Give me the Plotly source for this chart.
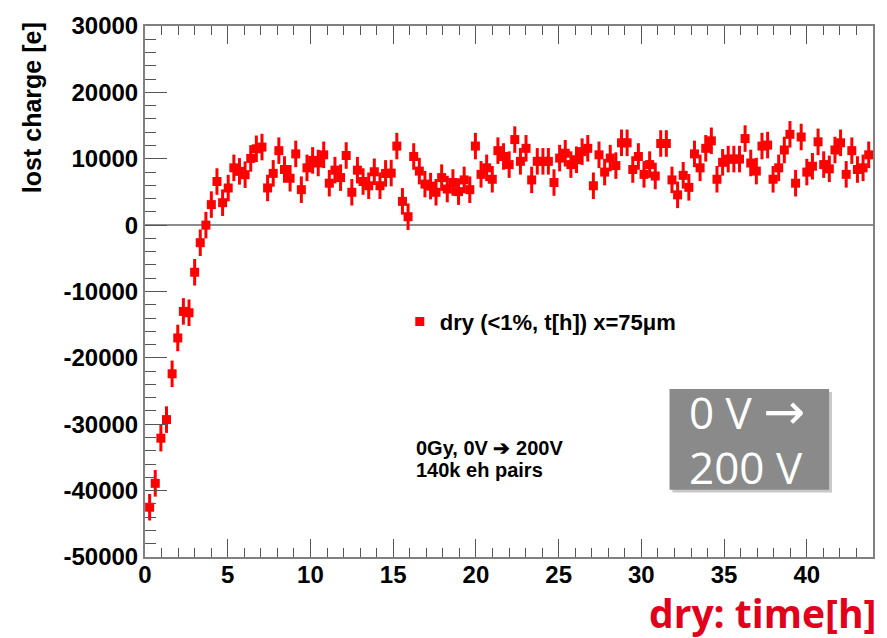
import plotly.graph_objects as go

# time [h]
time_h = [0.28, 0.62, 0.96, 1.30, 1.64, 1.98, 2.32, 2.66, 3.00, 3.34,
          3.68, 4.01, 4.35, 4.69, 5.03, 5.37, 5.71, 6.05, 6.39, 6.73,
          7.07, 7.41, 7.75, 8.09, 8.43, 8.77, 9.11, 9.45, 9.79, 10.13,
          10.47, 10.80, 11.14, 11.48, 11.82, 12.16, 12.50, 12.84, 13.18, 13.52,
          13.86, 14.20, 14.54, 14.88, 15.22, 15.56, 15.90, 16.24, 16.58, 16.92,
          17.26, 17.59, 17.93, 18.27, 18.61, 18.95, 19.29, 19.63, 19.97, 20.31,
          20.65, 20.99, 21.33, 21.67, 22.01, 22.35, 22.69, 23.03, 23.37, 23.71,
          24.05, 24.38, 24.72, 25.06, 25.40, 25.74, 26.08, 26.42, 26.76, 27.10,
          27.44, 27.78, 28.12, 28.46, 28.80, 29.14, 29.48, 29.82, 30.16, 30.50,
          30.84, 31.17, 31.51, 31.85, 32.19, 32.53, 32.87, 33.21, 33.55, 33.89,
          34.23, 34.57, 34.91, 35.25, 35.59, 35.93, 36.27, 36.61, 36.95, 37.29,
          37.63, 37.96, 38.30, 38.64, 38.98, 39.32, 39.66, 40.00, 40.34, 40.68,
          41.02, 41.36, 41.70, 42.04, 42.38, 42.72, 43.06, 43.40, 43.74]

# lost charge [e]
lost_charge = [-42500, -38900, -32100, -29300, -22400, -17000, -13000, -13200, -7100, -2650,
               0, 3090, 6570, 3380, 5590, 8630, 8100, 7600, 10050, 11500,
               11760, 5600, 7800, 11220, 8380, 7060, 10730, 5340, 8630, 9750,
               9360, 10590, 6320, 8280, 7160, 10490, 4950, 8280, 6570, 5930,
               8040, 5930, 7790, 7840, 11910, 3580, 1270, 10340, 8140, 6180,
               5880, 4950, 7160, 5440, 6420, 5050, 6810, 5340, 11910, 7650,
               8630, 6910, 11220, 10340, 9120, 12890, 9610, 11570, 6810, 9610,
               9610, 9610, 6420, 10100, 10830, 9120, 9850, 11070, 11570, 5930,
               10590, 7990, 10100, 8970, 12400, 12400, 8380, 10340, 7650, 9120,
               7400, 12300, 12300, 6810, 4560, 7500, 5690, 10730, 8630, 11570,
               12700, 6910, 9460, 9950, 9950, 9950, 13040, 9360, 8140, 11910,
               12060, 6910, 8630, 11320, 13680, 6320, 13280, 7990, 8870, 12550,
               9120, 8480, 11320, 12400, 7650, 11220, 8380, 8630, 10590]

ERR = 2000  # uncertainty on each point [e]

x_ticks = [0, 5, 10, 15, 20, 25, 30, 35, 40]
y_ticks = [-50000, -40000, -30000, -20000, -10000, 0, 10000, 20000, 30000]
y_ticklabels = [str(v) for v in y_ticks]

BOLD = "Liberation Sans, Arial, sans-serif"
RED = "#ff0000"

fig = go.Figure()
fig.add_trace(go.Scatter(
    x=time_h, y=lost_charge, mode="markers",
    name="dry (<1%, t[h]) x=75μm",
    marker=dict(symbol="square", size=9, color=RED, line=dict(width=0)),
    error_y=dict(type="constant", value=ERR, color=RED, thickness=3, width=0),
))

fig.update_layout(
    width=887, height=638, autosize=False,
    margin=dict(l=145, r=12, t=13, b=81),
    paper_bgcolor="white", plot_bgcolor="white",
    showlegend=True,
    legend=dict(x=0.35, y=0.443, xanchor="left", yanchor="middle",
                bgcolor="rgba(0,0,0,0)",
                font=dict(family=BOLD, size=22, color="black", weight="bold")),
    xaxis=dict(range=[0, 44], tickvals=x_ticks, ticks="inside", ticklen=18,
               tickwidth=1, tickcolor="#555", showline=True, linecolor="#808080",
               linewidth=2, mirror="ticks", showgrid=False, zeroline=False,
               ticklabelstandoff=-5,
               minor=dict(dtick=1, ticks="inside", ticklen=9, tickcolor="#555", tickwidth=1),
               tickfont=dict(family=BOLD, size=24, color="black", weight="bold")),
    yaxis=dict(range=[-50000, 30000], tickvals=y_ticks, ticktext=y_ticklabels,
               ticks="inside", ticklen=22,
               tickwidth=1, tickcolor="#555", showline=True, linecolor="#808080",
               linewidth=2, mirror=True, showgrid=False,
               zeroline=True, zerolinecolor="#8c8c8c", zerolinewidth=1.5,
               minor=dict(dtick=2000, ticks="inside", ticklen=11, tickcolor="#555", tickwidth=1),
               tickfont=dict(family=BOLD, size=24, color="black", weight="bold")),
)

fig.add_annotation(text="lost charge [e]", xref="paper", yref="paper",
                   x=-0.155, y=0.8456, textangle=-90, showarrow=False,
                   xanchor="center", yanchor="middle",
                   font=dict(family=BOLD, size=25, color="black", weight="bold"))

fig.add_annotation(text="dry: time[h]", xref="paper", yref="paper",
                   x=1.0068, y=-0.104, showarrow=False, xanchor="right", yanchor="middle",
                   font=dict(family="Open Sans, sans-serif", size=39, color="#e2001a", weight="bold"))

fig.add_annotation(text="0Gy, 0V ➔ 200V", xref="paper", yref="paper",
                   x=0.3699, y=0.2059, showarrow=False, xanchor="left", yanchor="middle",
                   font=dict(family=BOLD, size=20, color="black", weight="bold"))
fig.add_annotation(text="140k eh pairs", xref="paper", yref="paper",
                   x=0.3699, y=0.1636, showarrow=False, xanchor="left", yanchor="middle",
                   font=dict(family=BOLD, size=20, color="black", weight="bold"))

# grey text box with shadow
fig.add_shape(type="rect", xref="paper", yref="paper",
              x0=0.7245, x1=0.9437, y0=0.1213, y1=0.3107,
              fillcolor="#c8c8c8", line=dict(width=0), layer="above")
fig.add_shape(type="rect", xref="paper", yref="paper",
              x0=0.7205, x1=0.9397, y0=0.1268, y1=0.3162,
              fillcolor="#8a8a8a", line=dict(width=0), layer="above")
fig.add_annotation(text="0 V <span style='font-family:DejaVu Sans;font-size:50px'>→</span>",
                   xref="paper", yref="paper",
                   x=0.8267, y=0.2739, showarrow=False, xanchor="center", yanchor="middle",
                   font=dict(family="Open Sans, sans-serif", size=44, color="white"))
fig.add_annotation(text="200 V", xref="paper", yref="paper",
                   x=0.8253, y=0.1691, showarrow=False, xanchor="center", yanchor="middle",
                   font=dict(family="Open Sans, sans-serif", size=44, color="white"))

fig.write_html("out.html")
